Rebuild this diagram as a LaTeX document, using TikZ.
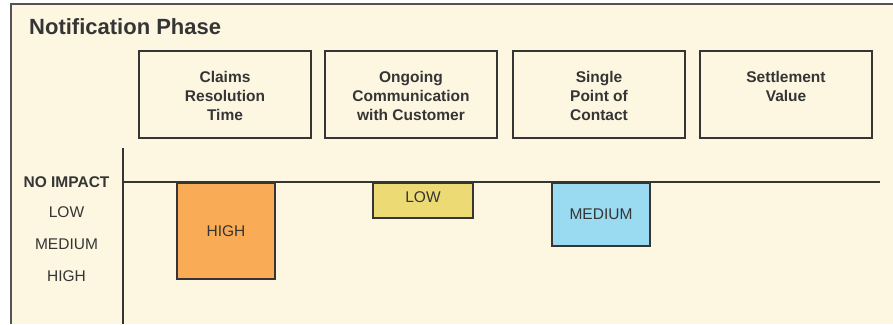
\documentclass[tikz,border=0pt]{standalone}
\usepackage{fontspec}
\setmainfont{Liberation Sans}
\definecolor{panel}{HTML}{FDF7E1}
\definecolor{ink}{HTML}{353535}
\definecolor{highfill}{HTML}{F9AC55}
\definecolor{lowfill}{HTML}{ECDB74}
\definecolor{medfill}{HTML}{9ADBF2}
\begin{document}
\begin{tikzpicture}[x=1pt,y=-1pt,
  every node/.style={text=ink,font=\fontsize{15.5}{19}\selectfont},
  hdr/.style={draw=ink,line width=1.6pt,minimum width=172pt,minimum height=87pt,inner sep=0pt},
  hdrtext/.style={anchor=north,align=center,inner sep=0pt,yshift=-20.5pt,font=\fontsize{15.5}{19}\selectfont\bfseries},
  bar/.style={draw=ink,line width=1.6pt,anchor=north,inner sep=0pt,minimum width=98pt},
  level/.style={inner sep=0pt}]
  \useasboundingbox (0,0) rectangle (893,324);

  % Panel
  \fill[panel] (11,4) rectangle (893,324);
  \draw[ink!85,line width=1.6pt] (11,324) -- (11,4) -- (893,4);
  \node[anchor=west,inner sep=0pt,font=\fontsize{22}{26}\selectfont\bfseries] (title) at (29,26.5) {Notification Phase};

  % Header boxes
  \node[hdr] (claims) at (225,94.5) {};
  \node[hdr] (comm) at (411,94.5) {};
  \node[hdr] (contact) at (599,94.5) {};
  \node[hdr] (settle) at (786,94.5) {};
  \node[hdrtext] (claims-t) at (claims.north) {Claims\\Resolution\\Time};
  \node[hdrtext] (comm-t) at (comm.north) {Ongoing\\Communication\\with Customer};
  \node[hdrtext] (contact-t) at (contact.north) {Single\\Point of\\Contact};
  \node[hdrtext] (settle-t) at (settle.north) {Settlement\\Value};

  % Axes
  \coordinate (top) at (123,148);
  \coordinate (bottom) at (123,324);
  \coordinate (zero) at (123,182);
  \coordinate (end) at (880,182);
  \draw[ink,line width=1.4pt] (top) -- (bottom);
  \draw[ink,line width=1.4pt] (zero) -- (end);

  % Impact levels
  \node[level,font=\fontsize{15.5}{19}\selectfont\bfseries] (none) at (66.5,182) {NO IMPACT};
  \node[level] (low) at (66.5,212) {LOW};
  \node[level] (medium) at (66.5,244) {MEDIUM};
  \node[level] (high) at (66.5,276) {HIGH};

  % Bars
  \node[bar,fill=highfill,minimum height=96pt] (claims-bar) at (226,182) {HIGH};
  \node[bar,fill=lowfill,minimum width=100pt,minimum height=35pt,text depth=7pt] (comm-bar) at (423,182) {LOW};
  \node[bar,fill=medfill,minimum height=63pt] (contact-bar) at (601,182) {MEDIUM};
\end{tikzpicture}
\end{document}
